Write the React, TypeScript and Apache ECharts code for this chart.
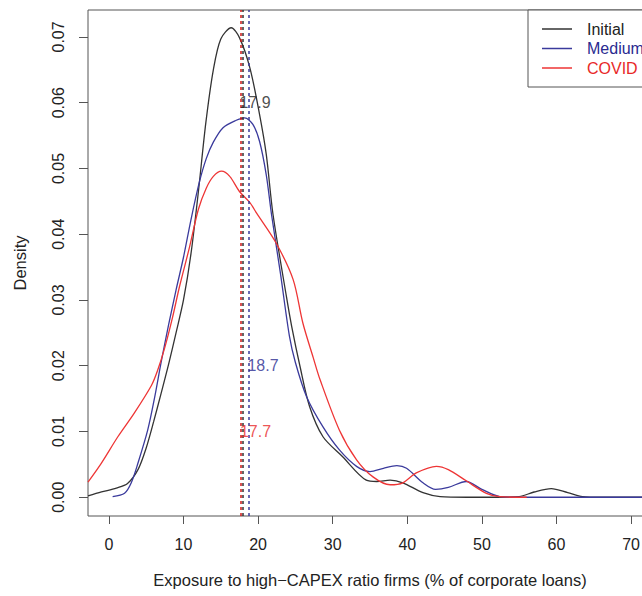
import React, { useEffect, useRef } from "react";
import * as echarts from "echarts";

const xTicks = [0, 10, 20, 30, 40, 50, 60, 70];
const yTicks = [0, 0.01, 0.02, 0.03, 0.04, 0.05, 0.06, 0.07];

const seriesNames = ["Initial", "Medium", "COVID"];

const initialDensity: [number, number][] = [
  [-2.8, 0.0002], [-1, 0.0008], [1, 0.0014], [2.5, 0.0021], [3.9, 0.0042],
  [5.0, 0.0075], [6.0, 0.0115], [7.0, 0.0158], [8.0, 0.0202], [9.0, 0.025],
  [10, 0.030], [11, 0.037], [12, 0.0465], [13, 0.057], [14, 0.065],
  [15, 0.0697], [16.4, 0.0714], [17.5, 0.0699],
  [18.9, 0.0653], [20.2, 0.0582], [21.1, 0.0521], [22.0, 0.043], [23.8, 0.0305],
  [24.5, 0.026], [25.6, 0.020], [26.9, 0.0138], [28.7, 0.0092], [31.3, 0.0062],
  [34.5, 0.0026], [35.9, 0.0024], [37.7, 0.0026], [39.4, 0.0022], [42.1, 0.0007],
  [44.4, 0.0001], [48, 0.0], [52, 0.0], [55, 0.0001], [57, 0.0008],
  [59.3, 0.0013], [61.5, 0.0007], [63.5, 0.0001], [66, 0.0], [72.8, 0.0],
];

const mediumDensity: [number, number][] = [
  [0.5, 0.0001], [2.1, 0.0006], [3.0, 0.0022], [3.9, 0.0052], [5.2, 0.0102],
  [6.1, 0.015], [7.0, 0.0205], [8.0, 0.0262], [9.0, 0.0315], [10.0, 0.0365],
  [11.0, 0.0422], [12.1, 0.0478], [13.05, 0.0515], [14, 0.054], [15.3, 0.0562],
  [17, 0.0573], [18.2, 0.0577],
  [19.3, 0.0567], [20.2, 0.0541], [21.1, 0.049], [21.8, 0.043], [23, 0.034],
  [24.2, 0.0245], [25, 0.0205], [26.5, 0.0153], [28.7, 0.0107], [30.9, 0.0072],
  [33.2, 0.0047], [35, 0.0039], [36.8, 0.0044], [38.6, 0.0048], [39.9, 0.0044],
  [42.1, 0.0022], [43.8, 0.0012], [45.5, 0.0015], [47.9, 0.0024], [50, 0.0012],
  [52.4, 0.0001], [55, 0.0], [72.8, 0.0],
];

const covidDensity: [number, number][] = [
  [-2.8, 0.0023], [-1.0, 0.0052], [1.2, 0.0092], [3.4, 0.0128], [5.7, 0.017],
  [6.5, 0.0192], [7.5, 0.0228], [8.5, 0.0272], [9.5, 0.0322], [10.8, 0.038],
  [12, 0.0438], [13.05, 0.047],
  [14, 0.0488], [15.1, 0.0496], [16.2, 0.0488], [17.5, 0.0465], [18.9, 0.0448],
  [19.8, 0.0432], [22.4, 0.0387], [24.7, 0.0331], [26, 0.0265], [27.4, 0.0212],
  [28.3, 0.0179], [30.9, 0.0102], [33.2, 0.0057], [35.4, 0.0031], [37.7, 0.0019],
  [39.4, 0.0022], [41.2, 0.0037], [43.9, 0.0047], [45.5, 0.0042], [47.9, 0.0025],
  [50.6, 0.0006], [52.4, 0.0001], [56, 0.0],
];

const medianValues = [17.9, 18.7, 17.7];
const medianLabelY = [0.06, 0.02, 0.01];

const lineColors = ["#333333", "#3a3a9c", "#ee3535"];
const textColors = ["#222222", "#2a2a90", "#e82828"];

const FONT = "Liberation Sans, Arial, sans-serif";

export default function App() {
  const ref = useRef<HTMLDivElement>(null);
  useEffect(() => {
    if (!ref.current) return;
    const chart = echarts.init(ref.current, null, { renderer: "svg" });
    const densities = [initialDensity, mediumDensity, covidDensity];
    const lineSeries = seriesNames.map((name, i) => ({
      name,
      type: "line",
      data: densities[i],
      showSymbol: false,
      smooth: 0.3,
      z: 2 + i,
      lineStyle: { color: lineColors[i], width: 1.3 },
      itemStyle: { color: lineColors[i] },
      markLine: {
        silent: true,
        symbol: "none",
        label: { show: false },
        z: 10,
        lineStyle: { color: i === 2 ? "#d01818" : lineColors[i], width: 1.5, type: [3, 3] },
        data: [{ xAxis: medianValues[i] }],
      },
    }));
    const labelSeries = seriesNames.map((name, i) => ({
      name: "label-" + name,
      type: "scatter",
      symbolSize: 0,
      silent: true,
      z: 12,
      data: [[medianValues[i], medianLabelY[i]]],
      label: {
        show: true,
        position: "right",
        distance: i === 0 ? -3 : -1,
        formatter: () => medianValues[i].toFixed(1),
        color: textColors[i],
        fontSize: 16,
        fontFamily: FONT,
      },
    }));
    chart.setOption({
      animation: false,
      backgroundColor: "#ffffff",
      grid: {
        left: 88,
        top: 10,
        right: 48,
        bottom: 80,
        show: true,
        borderColor: "#555555",
        borderWidth: 1,
        backgroundColor: "transparent",
      },
      legend: {
        orient: "vertical",
        left: 528,
        top: 10,
        padding: [11, 40, 11, 14],
        itemGap: 3.5,
        itemWidth: 30,
        itemHeight: 1.5,
        icon: "rect",
        borderColor: "#555555",
        borderWidth: 1,
        backgroundColor: "#ffffff",
        selectedMode: false,
        textStyle: { fontSize: 16, fontFamily: FONT, padding: [0, 0, 0, 10] },
        data: seriesNames.map((n, i) => ({ name: n, textStyle: { color: textColors[i] } })),
      },
      xAxis: {
        type: "value",
        min: -2.8,
        max: 72.8,
        name: "Exposure to high\u2212CAPEX ratio firms (% of corporate loans)",
        nameLocation: "middle",
        nameGap: 55,
        nameTextStyle: { fontSize: 16.5, fontFamily: FONT, color: "#222" },
        splitLine: { show: false },
        axisLine: { show: false, onZero: false },
        axisTick: { show: true, length: 8, customValues: xTicks, lineStyle: { color: "#555" } },
        axisLabel: {
          customValues: xTicks,
          margin: 20,
          fontSize: 16,
          fontFamily: FONT,
          color: "#222",
        },
      },
      yAxis: {
        type: "value",
        min: -0.00285,
        max: 0.0741,
        name: "Density",
        nameLocation: "middle",
        nameRotate: 90,
        nameGap: 60,
        nameTextStyle: { fontSize: 16.5, fontFamily: FONT, color: "#222" },
        splitLine: { show: false },
        axisLine: { show: false, onZero: false },
        axisTick: { show: true, length: 9, customValues: yTicks, lineStyle: { color: "#555" } },
        axisLabel: {
          customValues: yTicks,
          rotate: 90,
          margin: 22,
          fontSize: 16,
          fontFamily: FONT,
          color: "#222",
          formatter: (v: number) => v.toFixed(2),
        },
      },
      series: [...lineSeries, ...labelSeries],
    });
    return () => chart.dispose();
  }, []);
  return (
    <div
      style={{
        position: "absolute",
        left: 0,
        top: 0,
        width: 642,
        height: 596,
        overflow: "hidden",
        background: "#fff",
      }}
    >
      <div ref={ref} style={{ width: 700, height: 596 }} />
    </div>
  );
}
